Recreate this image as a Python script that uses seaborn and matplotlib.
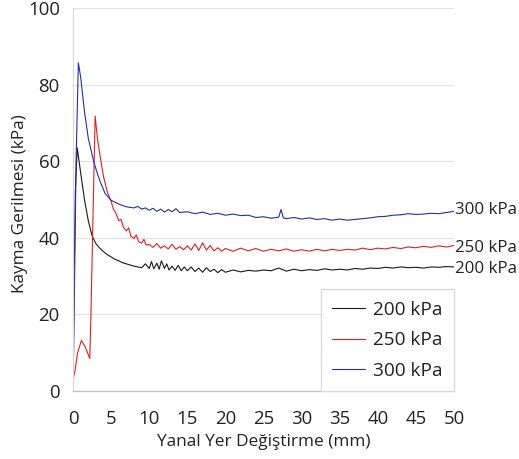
import matplotlib
matplotlib.use("Agg")
import matplotlib.pyplot as plt
import seaborn as sns
import pandas as pd

# ---- data ----
x_200 = [0, 0.1, 0.3, 0.55, 1.0, 1.5, 2.0, 2.5, 3.0, 3.5,
         4.0, 4.5, 5.0, 5.5, 6.0, 6.5, 7.0, 7.5, 8.0, 8.5,
         9.0, 9.5, 10.0, 10.3, 10.6, 11.0, 11.3, 11.6, 12.0, 12.3,
         12.6, 13.0, 13.4, 13.8, 14.2, 14.6, 15.0, 15.5, 16.0, 16.5,
         17.0, 17.5, 18.0, 18.5, 19.0, 19.5, 20.0, 21, 22, 23,
         24, 25, 26, 27, 28, 29, 30, 31, 32, 33,
         34, 35, 36, 37, 38, 39, 40, 41, 42, 43,
         44, 45, 46, 47, 48, 49, 50]
y_200 = [4, 22, 52, 63.5, 57, 50, 44.5, 40.5, 38.5, 37.3,
         36.4, 35.6, 35.0, 34.4, 34.0, 33.5, 33.2, 32.9, 32.6, 32.4,
         32.2, 33.2, 32.0, 33.8, 31.9, 33.4, 31.8, 34.0, 32.0, 33.2,
         31.6, 32.6, 31.5, 32.8, 31.4, 32.4, 31.4, 32.4, 31.2, 32.1,
         31.0, 32.2, 31.2, 31.8, 30.9, 31.7, 31.0, 31.6, 31.1, 31.5,
         31.3, 31.6, 31.4, 32.1, 31.3, 31.8, 31.4, 31.7, 31.5, 31.9,
         31.6, 31.8, 31.6, 32.0, 31.8, 32.1, 32.0, 32.3, 32.1, 32.4,
         32.2, 32.3, 32.1, 32.4, 32.3, 32.5, 32.4]

x_250 = [0, 0.25, 0.6, 1.1, 1.6, 2.2, 2.35, 2.9, 3.2, 3.5,
         4.0, 4.5, 5.0, 5.3, 5.6, 6.0, 6.3, 6.6, 7.0, 7.3,
         7.6, 8.0, 8.3, 8.6, 9.0, 9.3, 9.6, 10.0, 10.5, 11.0,
         11.5, 12.0, 12.5, 13.0, 13.5, 14.0, 14.5, 15.0, 15.5, 16.0,
         16.5, 17.0, 17.5, 18.0, 18.5, 19.0, 19.5, 20.0, 21, 22,
         23, 24, 25, 26, 27, 28, 29, 30, 31, 32,
         33, 34, 35, 36, 37, 38, 39, 40, 41, 42,
         43, 44, 45, 46, 47, 48, 49, 50]
y_250 = [3, 5.2, 10, 13.2, 11.5, 8.5, 20, 71.8, 66, 62,
         56, 52, 49.5, 47.5, 46.5, 44.5, 44.8, 42.8, 41.8, 42.6,
         40.4, 39.8, 40.8, 39.0, 38.6, 39.6, 38.1, 38.3, 37.5, 38.5,
         37.3, 37.9, 37.1, 38.3, 37.0, 37.7, 36.9, 37.9, 36.8, 38.4,
         36.7, 38.7, 36.8, 38.0, 36.6, 37.4, 36.5, 37.2, 36.5, 37.3,
         36.6, 37.2, 36.5, 37.0, 36.6, 37.1, 36.5, 36.9, 36.5, 37.0,
         36.6, 37.0, 36.7, 37.0, 36.8, 37.3, 36.9, 37.3, 37.1, 37.5,
         37.2, 37.6, 37.4, 37.8, 37.5, 37.9, 37.6, 38.0]

x_300 = [0, 0.1, 0.4, 0.7, 1.0, 1.5, 2.0, 2.67, 3.0, 3.5,
         4.2, 5.0, 6.0, 7.0, 8.0, 8.5, 9.0, 9.5, 10.0, 10.5,
         11.0, 11.5, 12.0, 12.5, 13.0, 13.5, 14.0, 15.0, 16.0, 17.0,
         18.0, 19.0, 20.0, 21, 22, 23, 24, 25, 26, 27,
         27.3, 27.6, 28, 29, 30, 31, 32, 33, 34, 35,
         36, 37, 38, 39, 40, 41, 42, 43, 44, 45,
         46, 47, 48, 49, 50]
y_300 = [3, 12, 60, 85.7, 82, 73, 66, 60.3, 58, 55,
         51.6, 49.8, 48.8, 48.1, 47.8, 48.2, 47.5, 47.8, 47.2, 47.7,
         46.9, 47.5, 46.7, 47.4, 46.8, 47.6, 46.6, 46.8, 46.3, 46.7,
         46.1, 46.4, 45.9, 46.2, 45.8, 45.9, 45.3, 45.5, 45.1, 45.4,
         47.4, 45.2, 45.0, 45.3, 44.9, 45.2, 44.8, 45.0, 44.6, 44.9,
         44.6, 44.8, 45.0, 45.2, 45.5, 45.6, 45.9, 46.0, 46.3, 46.1,
         46.2, 46.4, 46.3, 46.6, 46.9]

series_names = ["200 kPa", "250 kPa", "300 kPa"]
series_colors = ["#1a1a1a", "#e02020", "#2b2ba6"]
x_ticks = [0, 5, 10, 15, 20, 25, 30, 35, 40, 45, 50]
y_ticks = [0, 20, 40, 60, 80, 100]
x_label = "Yanal Yer Değiştirme (mm)"
y_label = "Kayma Gerilmesi (kPa)"
end_label_y = [31.8, 37.4, 47.3]

frames = []
for name, xs, ys in zip(series_names, [x_200, x_250, x_300], [y_200, y_250, y_300]):
    frames.append(pd.DataFrame({"x": xs, "y": ys, "series": name}))
df = pd.concat(frames, ignore_index=True)

sns.set_theme(style="white")
plt.rcParams["font.family"] = ["Open Sans", "DejaVu Sans"]

fig = plt.figure(figsize=(5.19, 4.59), dpi=100)
ax = fig.add_axes([0.1407, 0.1481, 0.7341, 0.8345])

sns.lineplot(data=df, x="x", y="y", hue="series", palette=dict(zip(series_names, series_colors)),
             estimator=None, sort=False, linewidth=0.8, ax=ax)

ax.set_xlim(0, 50)
ax.set_ylim(0, 100)
ax.set_xticks(x_ticks)
ax.set_yticks(y_ticks)
ax.yaxis.grid(True, color="#e3e3e3", linewidth=0.9)
ax.xaxis.grid(False)
ax.set_axisbelow(True)
for s in ["top", "right"]:
    ax.spines[s].set_visible(False)
ax.spines["left"].set_color("#d9d9d9")
ax.spines["bottom"].set_color("#bfbfbf")
ax.spines["left"].set_linewidth(0.9)
ax.spines["bottom"].set_linewidth(0.9)
ax.tick_params(axis="x", direction="out", length=5, width=0.9, color="#bfbfbf",
               labelsize=13.4, labelcolor="#222222", pad=9)
ax.tick_params(axis="y", length=0, labelsize=13.4, labelcolor="#222222", pad=9.5)
ax.set_xlabel(x_label, fontsize=12.4, color="#222222", labelpad=4)
ax.set_ylabel(y_label, fontsize=12.4, color="#222222", va="center")
ax.yaxis.set_label_coords(-0.139, 0.49)

for name, yy in zip(series_names, end_label_y):
    ax.text(50.15, yy, name, fontsize=12.2, color="#222222", va="center", ha="left", clip_on=False)

leg = ax.legend(loc="lower right", bbox_to_anchor=(1.0, 0.0), borderaxespad=0.0,
                fontsize=13.7, frameon=True, fancybox=False, framealpha=1,
                edgecolor="#d9d9d9", handlelength=1.7, handletextpad=0.45,
                borderpad=0.6, labelspacing=0.65, title=None)
leg.get_frame().set_linewidth(0.9)
for t in leg.get_texts():
    t.set_color("#222222")

fig.savefig("out.png", dpi=100)
